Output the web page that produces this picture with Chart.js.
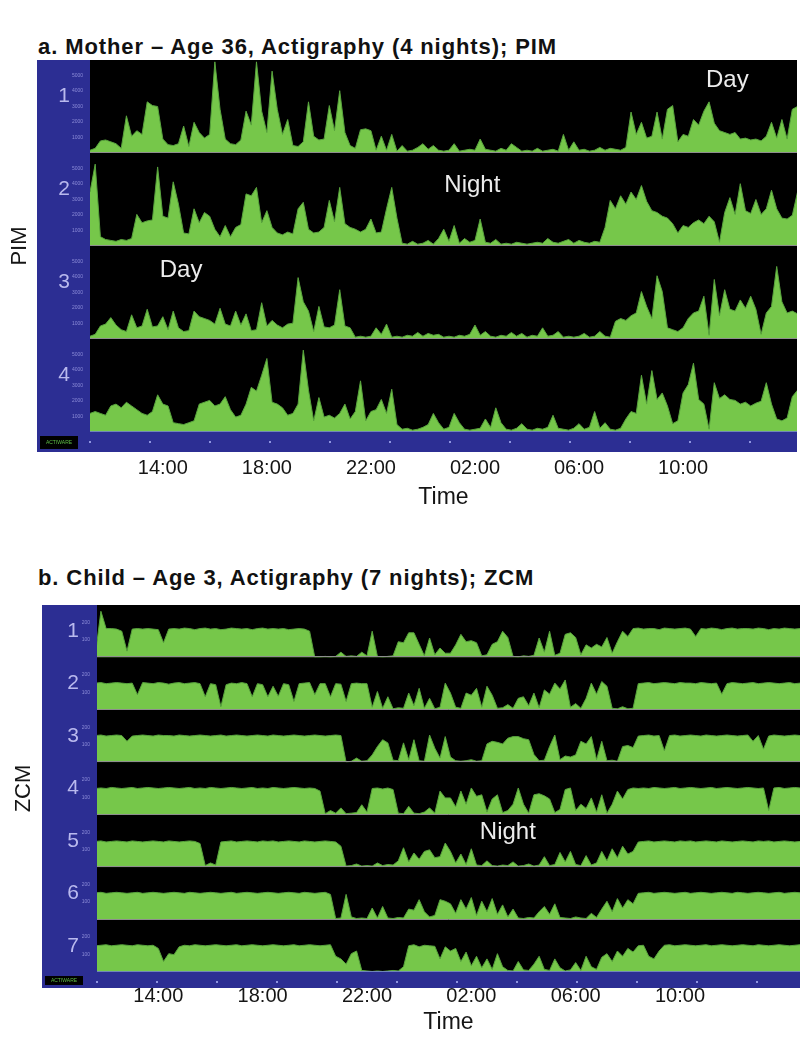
<!DOCTYPE html>
<html>
<head>
<meta charset="utf-8">
<script src="https://cdn.jsdelivr.net/npm/chart.js@4.4.1/dist/chart.umd.min.js"></script>
<style>
  body { margin: 0; background: #fff; width: 801px; height: 1047px; position: relative; overflow: hidden;
         font-family: 'Liberation Sans', Arial, sans-serif; }
  .ttl { position: absolute; left: 38px; font-weight: bold; font-size: 22px; letter-spacing: 0.9px; color: #111; white-space: nowrap; }
  canvas { position: absolute; left: 0; }
</style>
</head>
<body>
<div class="ttl" style="top:34px">a. Mother – Age 36, Actigraphy (4 nights); PIM</div>
<canvas id="chartMother" width="801" height="462" style="top:50px"></canvas>
<div class="ttl" style="top:565px">b. Child – Age 3, Actigraphy (7 nights); ZCM</div>
<canvas id="chartChild" width="801" height="442" style="top:595px"></canvas>
<script>
Chart.defaults.font.family = "'Liberation Sans', Arial, sans-serif";

const BLUE = '#2c2e93';
const GREEN = '#76c74a';
const GREEN_EDGE = '#58a33d';

// --- shared time axis ---
const timeTickHours = [14, 18, 22, 26, 30, 34];
const timeTickLabels = ['14:00', '18:00', '22:00', '02:00', '06:00', '10:00'];

// --- a. Mother, PIM, 12-minute bins from 11:12 (height in % of row) ---
const motherStart = 11.2;
const motherStep = 0.2;
const mother1 = [3,5,13,14,12,10,5,40,18,24, 20,55,51,50,15,9,8,10,29,7, 33,22,16,20,98,47,15,10,9,14,
  45,30,98,45,22,88,47,20,36,8, 7,12,55,18,14,15,51,24,67,22, 8,5,25,26,24,3,18,3,20,2, 8,2,3,6,10,4,8,3,
  2,3,10,2,3,4,3,15,4,3, 2,5,3,10,6,2,3,2,5,2, 3,4,2,20,3,12,3,4,2,3, 6,3,5,4,3,6,44,20,33,16,
  18,44,15,47,51,12,20,18,36,30, 45,55,32,24,22,20,22,15,16,14, 15,13,18,33,16,36,15,47,50];
const mother2 = [58,88,10,7,6,5,7,6,8,34, 25,27,28,85,32,30,69,45,14,13, 40,25,36,32,18,10,22,10,20,23,
  56,54,63,25,38,20,14,12,15,13, 40,47,18,14,15,20,49,26,63,24, 20,18,15,18,29,14,15,40,63,30, 3,2,5,2,3,6,2,8,
  18,5,22,3,8,4,6,29,4,3, 7,2,3,2,4,3,2,3,4,3, 8,4,3,5,7,3,6,4,3,5, 4,20,49,40,54,45,58,50,65,48,
  38,36,32,30,24,14,22,20,25,28, 24,32,26,4,36,52,34,67,38,35, 50,34,40,60,40,30,29,33,58];
const mother3 = [3,5,14,16,23,15,10,8,26,12, 14,32,13,14,24,10,30,12,8,9, 30,24,22,20,16,33,16,14,30,15,
  27,9,10,39,14,20,15,12,16,17, 66,40,30,8,35,13,12,15,53,14, 12,2,3,2,3,12,5,16,2,3, 2,4,3,7,3,6,4,5,
  2,3,2,4,3,5,15,4,8,3, 2,4,3,7,3,6,2,4,3,12, 3,4,8,2,3,2,3,6,2,3, 8,3,2,19,22,20,25,28,51,35,
  22,68,51,12,10,8,12,22,28,30, 46,4,64,25,53,32,30,42,33,46, 32,5,28,35,78,40,28,30,27];
const mother4 = [20,22,20,18,28,30,26,32,28,24, 20,18,22,40,30,28,10,9,8,10, 12,30,32,34,28,30,38,24,16,18,
  30,48,44,61,79,32,30,26,18,20, 30,88,45,12,37,16,18,15,20,30, 14,22,55,12,22,24,35,20,46,8, 3,4,2,3,5,8,20,10,
  3,5,20,10,3,2,3,4,14,5, 26,10,3,2,4,9,3,2,4,3, 5,18,4,3,2,4,9,3,5,22, 4,10,3,2,4,14,22,20,61,30,
  66,35,42,28,9,12,42,51,74,35, 30,3,53,36,40,35,34,30,32,28, 31,33,53,30,14,12,15,38,45];
const pimTickValues = [16.7, 33.3, 50, 66.7, 83.3];
const pimTickLabels = ['1000', '2000', '3000', '4000', '5000'];
const motherNotes = [
  { row: 0, hour: 35.7, level: 78, text: 'Day' },
  { row: 1, hour: 25.9, level: 65, text: 'Night' },
  { row: 2, hour: 14.7, level: 74, text: 'Day' }
];

// --- b. Child, ZCM, 12-minute bins from 11:36 ---
const childStart = 11.6;
const childStep = 0.2;
const child1 = [10,88,55,55,54,50,12,54,55,54,55,54,53,28,54,
  55,54,56,55,53,55,56,54,55,53,54,56,55,54,55,53,55,56,54,55,54,55,53,54,55,54,
  50,0,1,2,1,2,10,2,3,2, 10,3,50,2,1,2,3,30,28,47, 47,25,3,37,5,18,8,
  8,24,44,30,32,28,3,5,25,30, 50,38,2,1,3,2,4,37,10,50, 4,8,44,47,38,5,24,18,25,20, 38,8,30,50,40,
  55,56,54,55,55,53,56,55,54,55,56,54,40,55,54,56,55,53,55,56,54,55,55,54,56,55,53,55,54,56,55,54,55];
const child2 = [51,52,50,51,52,51,50,51, 29,
  52,51,50,52,51,49,51,52,50,51,52,50,
  25,50,48,6,48,51,50,52, 50,25,50,48,25,45,26,50,48,16, 50,51,52,29,50,50,25,50,49,16, 50,51,50,50,
  5,35,3,25,2,4,3,32,8,41,3,22,2,5,51,
  32,5,3,32,28,41,5,45,28,3, 4,10,3,22,25,8,32,4,38,30, 51,40,57,5,12,3,22,51,30,54, 45,3,2,6,2,3,50,
  51,52,50,51,52,51,50,52,51,51,50,52,51,50,51,30,50,52,51,50,51,52,50,51,52,51,50,51,52,50,51];
const child3 = [51,52,50,51,52,51, 40,
  50,51,52,51,50,52,51,51,50,52, 51,50,51,52,51,50,51,52,50,51, 52,51,50,51,52,51,50,52,51,50,
  51,52,51,50,51,52,51,50,51,52, 51,
  0,2,8,2,3,14,30,43,37,4, 3,37,5,43,3,2,52,27,8,49,
  10,3,2,3,5,2,3,35,40,38, 35,46,49,49,45,43,15,3,4,30, 52,5,12,10,14,40,35,49,5,40, 3,4,2,30,32,28,50,
  51,52,50,51,22,51,52,50,51,52,51,50,52,51,50,51,52,51,50,51,52,40,51,25,50,52,51,50,51,52,51];
const child4 = [50,51,50,52,51,50,51,52,50,51, 52,51,50,51,52,51,50,51,52,50, 51,50,52,51,50,51,52,51,50,51,
  52,50,51,50,52,51,50,51,52,51, 50,51,50,
  45,2,8,3,13,2,3,4,19,5, 50,51,49,51,48,3,2,16,3,2, 5,13,3,45,32,
  32,15,45,20,51,35,38,5,30,38, 4,8,20,51,20,3,38,40,36,30, 4,10,48,51,8,20,12,32,5,38, 3,20,45,30,48,51,50,
  51,50,52,51,50,51,52,50,51,52,51,50,51,52,50,51,52,51,50,51,52,51,50,51,8,51,52,50,51,52,51];
const child5 = [49,50,48,49,50,49,48,50,49,48, 49,50,49,48,50,49,48,49,50,49,
  45,3,8,4,48,
  49,50,48,49,50,49,48,50,49,50, 48,49,50,49,48,50,49,48,49,50, 49,48,
  40,2,3,6,2,3,2,8,3,5, 4,12,37,10,27,15,30,33,18,20, 46,
  30,8,25,5,35,4,3,12,3,2, 4,3,10,2,3,6,2,4,20,3, 5,28,10,30,5,3,22,4,8,30, 12,35,18,40,25,30,48,
  49,50,48,49,50,49,48,50,49,50,48,49,50,49,48,50,49,48,49,50,49,48,50,49,50,48,49,50,49,48,49];
const child6 = [51,52,50,51,52,51,50,51,52,50, 51,52,51,50,51,52,51,50,52,51, 50,51,52,51,50,51,52,50,51,52,
  51,50,51,52,51,50,51,52,51,50, 52,51,50,51,52,
  48,2,3,48,5,2,3,2,22,3, 25,3,2,4,3,20,18,38,15,5, 8,38,35,
  30,12,38,20,42,8,35,15,40,10, 28,5,20,3,2,4,3,15,25,10, 30,4,3,2,5,3,2,12,4,20, 35,15,40,22,38,30,50,
  51,52,50,51,52,51,50,51,52,50,51,52,51,50,51,52,51,50,52,51,50,51,52,51,50,51,52,50,51,52,51];
const child7 = [50,51,52,50,51,52,51,50,52,51,50,51,
  45,20,35,33,48,
  51,50,52,51,50,51,52,51,50,51, 52,50,51,52,51,50,51,52,51,50, 51,52,50,51,52,51,50,51,52,
  30,25,15,35,40,3,2,1,2,1, 2,3,2,10,50,52,48,51,50,49, 25,48,
  40,45,20,38,12,30,8,25,5,35, 10,3,2,20,4,3,15,30,5,3, 25,8,2,4,18,3,30,10,5,28, 35,20,40,30,45,38,50,
  51,30,25,40,51,52,50,51,52,51,50,51,52,50,51,52,51,50,51,52,51,50,52,51,50,51,52,51,50,51,52];
const zcmTickValues = [33.3, 66.7];
const zcmTickLabels = ['100', '200'];
const childNotes = [
  { row: 4, hour: 27.4, level: 67, text: 'Night' }
];

function makePanel(canvasId, p) {
  const times = p.rows[0].map((_, i) => p.start + i * p.step);

  const scales = {
    x: {
      type: 'linear', min: p.min, max: p.max,
      grid: { display: false, drawTicks: false }, border: { display: false },
      afterBuildTicks: s => { s.ticks = timeTickHours.map(v => ({ value: v })); },
      afterFit: s => { s.height = p.axisH; },
      ticks: {
        autoSkip: false, maxRotation: 0, padding: p.labelPad, color: '#151515', font: { size: 20 },
        callback: v => timeTickLabels[timeTickHours.indexOf(v)]
      },
      title: { display: true, text: 'Time', color: '#151515', font: { size: 23 }, padding: { top: 0, bottom: 1 } }
    }
  };
  // stacked row axes: the library stacks them bottom-up, so add the last row first
  for (let i = p.rows.length - 1; i >= 0; i--) {
    scales['r' + i] = {
      type: 'linear', position: 'left', stack: 'rows', stackWeight: 1, min: 0, max: 100, offset: false,
      grid: { display: false, drawTicks: false }, border: { display: false },
      afterFit: s => { s.width = p.stripW; },
      afterBuildTicks: s => { s.ticks = p.tickValues.map(v => ({ value: v })); },
      ticks: {
        padding: 7, color: '#8c8cd8', font: { size: 5 },
        callback: (v, idx) => p.tickLabels[idx]
      }
    };
  }

  const datasets = p.rows.map((r, i) => ({
    data: r.map((v, k) => ({ x: times[k], y: v })),
    xAxisID: 'x', yAxisID: 'r' + i,
    borderColor: GREEN_EDGE, borderWidth: 1, backgroundColor: GREEN,
    fill: 'origin', pointRadius: 0, tension: 0
  }));

  const frame = {
    id: 'frame',
    beforeDraw(chart) {
      const { ctx, chartArea: a } = chart;
      ctx.save();
      ctx.fillStyle = BLUE;
      ctx.fillRect(p.padLeft, a.top, a.right - p.padLeft, a.bottom - a.top + p.stripH);
      ctx.fillStyle = '#000';
      ctx.fillRect(a.left, a.top, a.right - a.left, a.bottom - a.top);
      ctx.restore();
    },
    afterDatasetsDraw(chart) {
      const { ctx, chartArea: a, scales: sc } = chart;
      ctx.save();
      p.rows.forEach((r, i) => {
        const s = sc['r' + i];
        const y0 = Math.round(s.getPixelForValue(0)) - 0.5;
        ctx.strokeStyle = i === p.rows.length - 1 ? '#6f86b8' : '#8e8e8e';
        ctx.lineWidth = 1;
        ctx.beginPath(); ctx.moveTo(a.left, y0); ctx.lineTo(a.right, y0); ctx.stroke();
        ctx.fillStyle = '#b9b9ee';
        ctx.font = "21px 'Liberation Sans', Arial";
        ctx.textAlign = 'center'; ctx.textBaseline = 'middle';
        ctx.fillText(String(i + 1), p.padLeft + p.numX, (s.top + s.bottom) / 2 + p.numDy);
      });

      // Day / Night notes
      ctx.fillStyle = '#ececec';
      ctx.font = "24px 'Liberation Sans', Arial";
      p.notes.forEach(n => {
        ctx.fillText(n.text, sc.x.getPixelForValue(n.hour), sc['r' + n.row].getPixelForValue(n.level));
      });

      // minor marks in the bottom strip
      ctx.fillStyle = '#8f95e0';
      for (let h = p.min; h <= p.max; h += p.dotStep) {
        const x = Math.round(sc.x.getPixelForValue(h)) - 1;
        ctx.fillRect(x, a.bottom + p.dotDy, 2, 2);
      }

      // software badge in the corner
      ctx.fillStyle = '#000';
      ctx.fillRect(p.padLeft + 3, a.bottom + 4, 38, p.stripH - 7);
      ctx.fillStyle = '#5fbf45';
      ctx.font = "5px 'Liberation Sans', Arial";
      ctx.fillText('ACTIWARE', p.padLeft + 22, a.bottom + 4 + (p.stripH - 7) / 2);

      // y title
      const top = sc.r0.top, bottom = sc['r' + (p.rows.length - 1)].bottom;
      ctx.translate(p.titleX, (top + bottom) / 2);
      ctx.rotate(-Math.PI / 2);
      ctx.fillStyle = '#151515';
      ctx.font = "22px 'Liberation Sans', Arial";
      ctx.fillText(p.yTitle, 0, 0);
      ctx.restore();
    }
  };

  return new Chart(document.getElementById(canvasId), {
    type: 'line',
    data: { datasets },
    options: {
      responsive: false, animation: false, events: [],
      devicePixelRatio: 1,
      layout: { padding: { left: p.padLeft, right: p.padRight, top: 0, bottom: 0 } },
      plugins: { legend: { display: false }, tooltip: { enabled: false } },
      scales
    },
    plugins: [frame]
  });
}

makePanel('chartMother', {
  rows: [mother1, mother2, mother3, mother4],
  start: motherStart, step: motherStep, min: 11.2, max: 38.38,
  padLeft: 37, padRight: 4, stripW: 53, stripH: 20,
  axisH: 80, labelPad: 24,
  tickValues: pimTickValues, tickLabels: pimTickLabels,
  numX: 27, numDy: -10, titleX: 20, yTitle: 'PIM',
  notes: motherNotes, dotStep: 2.307, dotDy: 9
});

makePanel('chartChild', {
  rows: [child1, child2, child3, child4, child5, child6, child7],
  start: childStart, step: childStep, min: 11.65, max: 38.6,
  padLeft: 42, padRight: 1, stripW: 55, stripH: 16,
  axisH: 65, labelPad: 12,
  tickValues: zcmTickValues, tickLabels: zcmTickLabels,
  numX: 31, numDy: 0, titleX: 24, yTitle: 'ZCM',
  notes: childNotes, dotStep: 2.3, dotDy: 9
});
</script>
</body>
</html>
